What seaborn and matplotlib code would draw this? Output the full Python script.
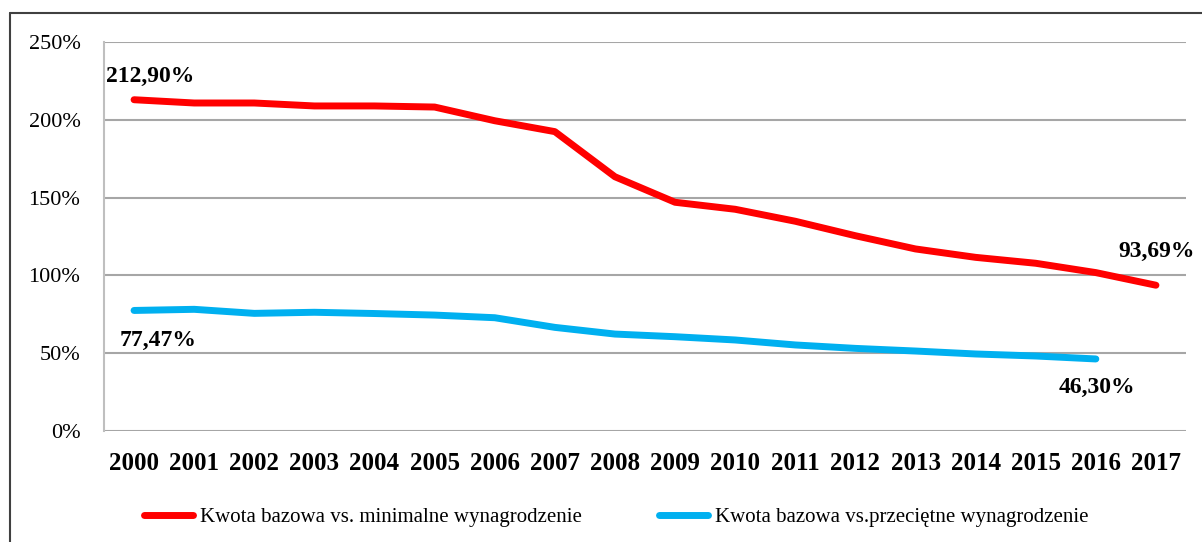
import numpy as np
import pandas as pd
import matplotlib
matplotlib.use('Agg')
import matplotlib.pyplot as plt
from matplotlib.lines import Line2D
from matplotlib.ticker import FuncFormatter
import seaborn as sns

years = list(range(2000, 2018))
# Kwota bazowa vs. minimalne wynagrodzenie (%)
minimalne = [212.90, 210.8, 210.8, 208.9, 208.9, 208.2, 199.4, 192.4, 163.4, 147.0,
             142.5, 134.8, 125.5, 117.0, 111.6, 107.8, 101.8, 93.69]
# Kwota bazowa vs. przeciętne wynagrodzenie (%), brak danych dla 2017
przecietne = [77.47, 78.2, 75.6, 76.3, 75.5, 74.5, 72.8, 66.6, 62.3, 60.6,
              58.5, 55.3, 53.1, 51.4, 49.5, 48.2, 46.30]
nazwy = ['Kwota bazowa vs. minimalne wynagrodzenie',
         'Kwota bazowa vs.przeciętne wynagrodzenie']
kolory = ['#FF0000', '#00B0F0']

df = pd.concat([
    pd.DataFrame({'rok': years, 'wartosc': minimalne, 'seria': nazwy[0]}),
    pd.DataFrame({'rok': years[:len(przecietne)], 'wartosc': przecietne, 'seria': nazwy[1]}),
])

sns.set_style('white')
plt.rcParams['font.family'] = ['Liberation Serif', 'DejaVu Serif']
plt.rcParams['text.color'] = 'black'
plt.rcParams['xtick.color'] = 'black'
plt.rcParams['ytick.color'] = 'black'

fig = plt.figure(figsize=(12.02, 5.42), dpi=100)
ax = fig.add_axes([104/1202, 1-431/542, (1186-104)/1202, (431-42)/542])

sns.lineplot(data=df, x='rok', y='wartosc', hue='seria', palette=kolory,
             linewidth=5, ax=ax, legend=False,
             solid_capstyle='round', solid_joinstyle='round')

ax.set_xlim(1999.5, 2017.5)
ax.set_ylim(0, 250)
ax.set_xticks(years)
ax.set_xticklabels([str(y) for y in years], fontsize=18, fontweight='bold')
ax.set_yticks(np.arange(0, 251, 50))
ax.yaxis.set_major_formatter(FuncFormatter(lambda v, p: f'{v:.0f}%'))
ax.tick_params(axis='y', labelsize=16, pad=17, length=0)
ax.tick_params(axis='x', pad=15, length=0)
ax.set_xlabel('')
ax.set_ylabel('')
ax.yaxis.grid(True, color='#A6A6A6', linewidth=1.5)
ax.set_axisbelow(True)
for s in ['top', 'right', 'bottom']:
    ax.spines[s].set_visible(False)
ax.spines['left'].set_color('#BFBFBF')
ax.spines['left'].set_linewidth(1.5)

# etykiety wartości na końcach serii
etykiety = [
    (years[0], minimalne[0], '212,90%', (-28, 18)),
    (years[0], przecietne[0], '77,47%', (-14, -35)),
    (years[-1], minimalne[-1], '93,69%', (-38, 28)),
    (years[len(przecietne)-1], przecietne[-1], '46,30%', (-37, -34)),
]
for x, y, t, off in etykiety:
    ax.annotate(t, (x, y), xytext=off, textcoords='offset pixels',
                ha='left', va='baseline', fontsize=17, fontweight='bold')

handles = [Line2D([], [], color=c, lw=5, solid_capstyle='round') for c in kolory]
fig.legend(handles, nazwy, loc='center', bbox_to_anchor=(0.5125, 0.046), ncol=2,
           frameon=False, fontsize=15, handlelength=2.35, handletextpad=0.35,
           columnspacing=3.7)

# ramka wokół wykresu
fig.add_artist(Line2D([10/1202, 10/1202], [0, 1-13/542], transform=fig.transFigure,
                      color='#404040', lw=1.5))
fig.add_artist(Line2D([10/1202, 1], [1-13/542, 1-13/542], transform=fig.transFigure,
                      color='#404040', lw=1.5))

fig.savefig('out.png', dpi=100)
